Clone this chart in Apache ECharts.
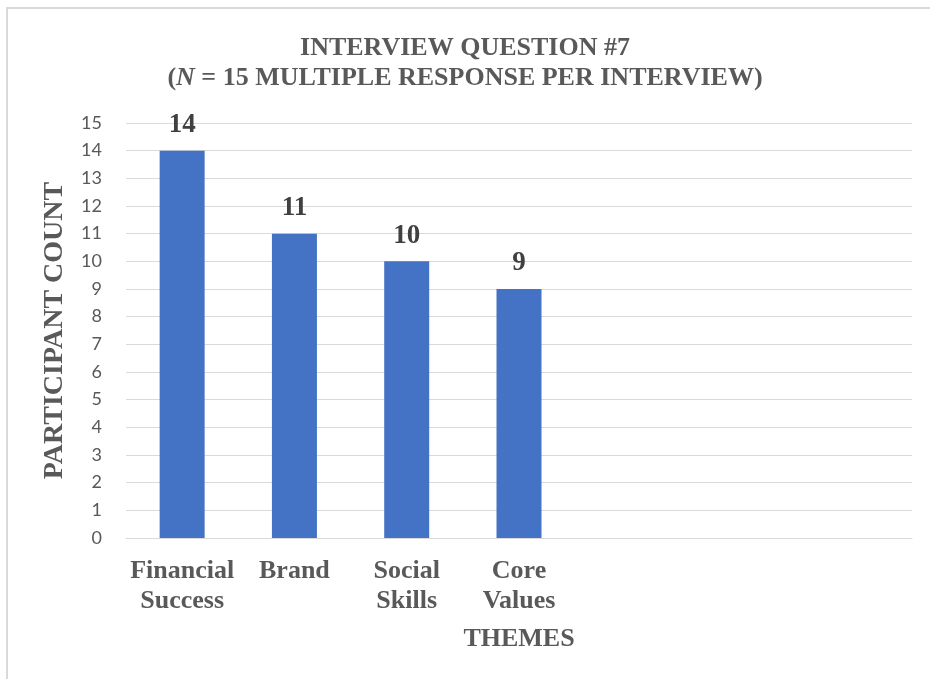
<!DOCTYPE html>
<html>
<head>
<meta charset="utf-8">
<script src="https://cdn.jsdelivr.net/npm/echarts@6/dist/echarts.min.js"></script>
<style>html,body{margin:0;padding:0;background:#fff;}#c{width:930px;height:679px;}</style>
</head>
<body>
<div id="c"></div>
<script>
const categories = ['Financial\nSuccess', 'Brand', 'Social\nSkills', 'Core\nValues', '', '', ''];
const counts = [14, 11, 10, 9, null, null, null];
const yTicks = { min: 0, max: 15, interval: 1 };

const serif = '"Liberation Serif", "Times New Roman", serif';
const chart = echarts.init(document.getElementById('c'));
chart.setOption({
  animation: false,
  backgroundColor: '#fff',
  graphic: [{
    type: 'rect', shape: { x: 7, y: 8, width: 940, height: 700 },
    style: { fill: 'none', stroke: '#d9d9d9', lineWidth: 2 }, silent: true, z: -1
  }],
  title: {
    text: 'INTERVIEW QUESTION #7\n({i|N} = 15 MULTIPLE RESPONSE PER INTERVIEW)',
    left: 'center', top: 28,
    textStyle: {
      fontFamily: serif, fontWeight: 'bold', fontSize: 26, color: '#595959', lineHeight: 30,
      rich: { i: { fontFamily: serif, fontWeight: 'bold', fontStyle: 'italic', fontSize: 26, color: '#595959' } }
    }
  },
  grid: { left: 126, right: 18, top: 123, bottom: 141, containLabel: false },
  xAxis: {
    type: 'category', data: categories,
    name: 'THEMES', nameLocation: 'middle', nameGap: 88,
    nameTextStyle: { fontFamily: serif, fontWeight: 'bold', fontSize: 26, color: '#595959' },
    axisLine: { lineStyle: { color: '#d9d9d9', width: 1 } },
    axisTick: { show: false },
    axisLabel: { interval: 0, fontFamily: serif, fontWeight: 'bold', fontSize: 26, color: '#595959', lineHeight: 30, margin: 18 }
  },
  yAxis: {
    type: 'value', min: yTicks.min, max: yTicks.max, interval: yTicks.interval,
    name: 'PARTICIPANT COUNT', nameLocation: 'middle', nameGap: 57, nameRotate: 90,
    nameTextStyle: { fontFamily: serif, fontWeight: 'bold', fontSize: 28, color: '#595959' },
    axisLine: { show: false }, axisTick: { show: false },
    axisLabel: { fontFamily: 'Lato', fontSize: 18, color: '#595959', margin: 24 },
    splitLine: { lineStyle: { color: '#d9d9d9', width: 1 } }
  },
  series: [{
    type: 'bar', data: counts, barWidth: 45,
    itemStyle: { color: '#4472C4' },
    label: { show: true, position: 'top', distance: 12, fontFamily: serif, fontWeight: 'bold', fontSize: 27, color: '#404040' }
  }]
});
</script>
</body>
</html>
